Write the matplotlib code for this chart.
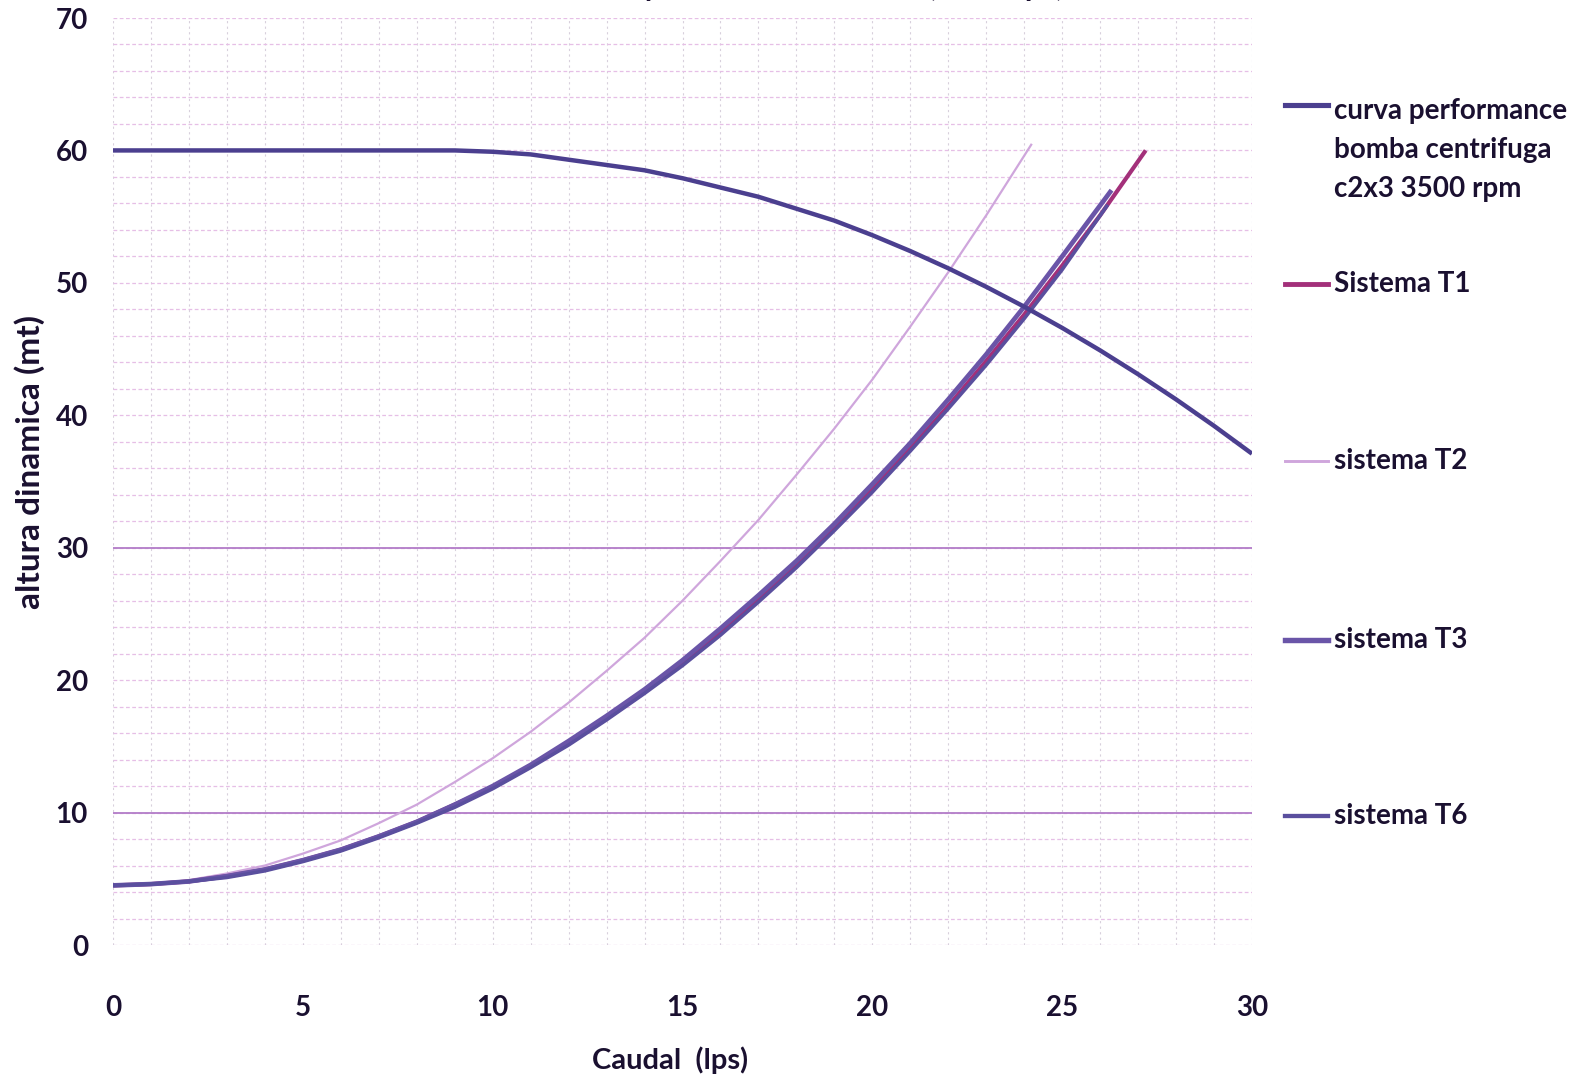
import matplotlib
matplotlib.use("Agg")
import matplotlib.pyplot as plt
from matplotlib.lines import Line2D

plt.rcParams['font.family'] = ['Lato', 'DejaVu Sans']

# ---- data ----
pump_x = [0, 2, 4, 6, 8, 9, 10, 11, 12, 13, 14, 15, 16, 17, 18, 19, 20, 21, 22, 23, 24, 25, 26, 27, 28, 29, 30]
pump_y = [60, 60, 60, 60, 60, 60, 59.9, 59.7, 59.3, 58.9, 58.5, 57.9, 57.2, 56.5, 55.6, 54.7, 53.6, 52.4,
          51.1, 49.7, 48.2, 46.6, 44.9, 43.1, 41.2, 39.2, 37.1]

t1_x = [0, 1, 2, 3, 4, 5, 6, 7, 8, 9, 10, 11, 12, 13, 14, 15, 16, 17, 18, 19, 20, 21, 22, 23, 24, 25, 26, 27.2]
t1_y = [4.5, 4.6, 4.8, 5.2, 5.7, 6.4, 7.2, 8.2, 9.3, 10.6, 11.9, 13.5, 15.2, 17.1, 19.1, 21.3, 23.6, 26.1,
        28.7, 31.5, 34.4, 37.5, 40.7, 44.1, 47.6, 51.3, 55.1, 60.0]

t2_x = [0, 1, 2, 3, 4, 5, 6, 7, 8, 9, 10, 11, 12, 13, 14, 15, 16, 17, 18, 19, 20, 21, 22, 23, 24.2]
t2_y = [4.5, 4.6, 4.9, 5.4, 6.0, 6.9, 7.9, 9.2, 10.6, 12.3, 14.1, 16.1, 18.3, 20.7, 23.2, 26.0, 29.0, 32.1,
        35.5, 39.0, 42.7, 46.7, 50.8, 55.1, 60.5]

t3_x = [0, 1, 2, 3, 4, 5, 6, 7, 8, 9, 10, 11, 12, 13, 14, 15, 16, 17, 18, 19, 20, 21, 22, 23, 24, 25, 26.3]
t3_y = [4.5, 4.6, 4.8, 5.2, 5.7, 6.4, 7.2, 8.2, 9.3, 10.6, 12.0, 13.6, 15.4, 17.3, 19.3, 21.5, 23.9, 26.4,
        29.0, 31.8, 34.8, 37.9, 41.2, 44.6, 48.2, 52.0, 57.0]

t6_x = [0, 1, 2, 3, 4, 5, 6, 7, 8, 9, 10, 11, 12, 13, 14, 15, 16, 17, 18, 19, 20, 21, 22, 23, 24, 25, 26.2]
t6_y = [4.5, 4.6, 4.8, 5.1, 5.6, 6.3, 7.1, 8.1, 9.2, 10.4, 11.8, 13.4, 15.1, 17.0, 19.0, 21.1, 23.4, 25.9,
        28.5, 31.3, 34.2, 37.3, 40.5, 43.8, 47.3, 51.0, 55.9]

labels = ["curva performance\nbomba centrifuga\nc2x3 3500 rpm", "Sistema T1",
          "sistema T2", "sistema T3", "sistema T6"]
x_ticks = [0, 5, 10, 15, 20, 25, 30]
y_ticks = [0, 10, 20, 30, 40, 50, 60, 70]

colors = ["#4b3f8f", "#a3307a", "#cfa6dc", "#6a55a8", "#5a4f9e"]
widths = [3.2, 3.0, 1.6, 3.4, 2.6]

W, H = 1580, 1090
fig = plt.figure(figsize=(W / 100, H / 100), dpi=100)
ax = fig.add_axes([113 / W, 1 - 945 / H, (1252 - 113) / W, (945 - 18) / H])
ax.set_xlim(0, 30)
ax.set_ylim(0, 70)

# grid
for v in range(0, 31):
    ax.axvline(v, color="#d8d0dc", lw=0.8, ls=(0, (2, 3)), zorder=0)
for v in range(0, 71, 2):
    ax.axhline(v, color="#e6bfe6", lw=0.9, ls=(0, (3, 2)), zorder=0)
for v in [10, 30]:
    ax.axhline(v, color="#b27cc8", lw=1.3, zorder=0)
for s in ax.spines.values():
    s.set_visible(False)

series = [(pump_x, pump_y), (t1_x, t1_y), (t2_x, t2_y), (t3_x, t3_y), (t6_x, t6_y)]
order = [2, 1, 3, 4, 0]
for i in order:
    xs, ys = series[i]
    ax.plot(xs, ys, color=colors[i], lw=widths[i], solid_capstyle="butt",
            solid_joinstyle="round", zorder=3)

ax.set_xticks(x_ticks)
ax.set_yticks(y_ticks)
ax.tick_params(length=0)
ax.tick_params(axis="x", pad=36)
ax.tick_params(axis="y", pad=18)
for t in ax.get_xticklabels() + ax.get_yticklabels():
    t.set_fontsize(20)
    t.set_fontweight("bold")
    t.set_color("#1a1030")

fig.text(30 / W, 1 - 462 / H, "altura dinamica (mt)", rotation=90, ha="center", va="center",
         fontsize=24, fontweight="bold", color="#1a1030")
fig.text(670 / W, 1 - 1060 / H, "Caudal  (lps)", ha="center", va="center",
         fontsize=21, fontweight="bold", color="#1a1030")

# title, cut by the top edge as in the reference
fig.text(730 / W, 1 + 14 / H, "Curva del sistema y curva de la bomba  (mt vs lps)", ha="center",
         va="center", fontsize=22, fontweight="bold", color="#1a1030")

# legend drawn at right
leg_y = [105, 284, 461, 640, 816]
text_y = [150, 284, 461, 640, 816]
for i in range(5):
    yy = 1 - leg_y[i] / H
    fig.add_artist(Line2D([1285 / W, 1328 / W], [yy, yy], color=colors[i], lw=widths[i] + 0.5,
                          transform=fig.transFigure))
    fig.text(1334 / W, 1 - text_y[i] / H, labels[i], ha="left", va="center", fontsize=20,
             fontweight="bold", color="#1a1030", linespacing=1.6)

fig.savefig("out.png", dpi=100, facecolor="white")
